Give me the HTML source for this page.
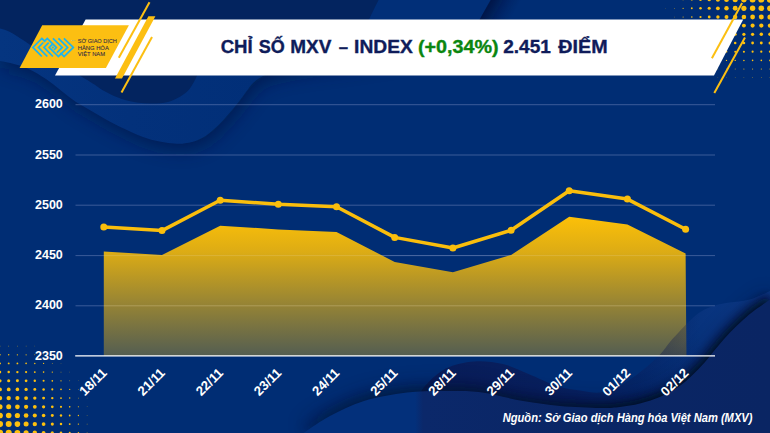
<!DOCTYPE html>
<html lang="vi"><head><meta charset="utf-8"><title>Chỉ số MXV – Index</title>
<style>html,body{margin:0;padding:0;background:#002d74;}body{width:770px;height:433px;overflow:hidden;}svg{display:block;}text{font-family:"Liberation Sans",sans-serif;}</style>
</head><body>
<svg width="770" height="433" viewBox="0 0 770 433">
<defs>
<linearGradient id="ar" x1="0" y1="217" x2="0" y2="356" gradientUnits="userSpaceOnUse"><stop offset="0" stop-color="#fcc008" stop-opacity="1"/><stop offset="0.25" stop-color="#f5ba0a" stop-opacity="0.9"/><stop offset="1" stop-color="#e8b414" stop-opacity="0.36"/></linearGradient>
<filter id="sh" x="-20%" y="-20%" width="140%" height="140%"><feGaussianBlur stdDeviation="9"/></filter>
<filter id="sh3" x="-20%" y="-40%" width="140%" height="180%"><feGaussianBlur stdDeviation="4.5"/></filter>
<filter id="sh2" x="-20%" y="-20%" width="140%" height="140%"><feGaussianBlur stdDeviation="4"/></filter>
<linearGradient id="mg" x1="0" y1="0" x2="260" y2="0" gradientUnits="userSpaceOnUse"><stop offset="0" stop-color="#053580"/><stop offset="0.5" stop-color="#03317b"/><stop offset="1" stop-color="#012f78"/></linearGradient>
<linearGradient id="n1dark" x1="418" y1="0" x2="700" y2="0" gradientUnits="userSpaceOnUse"><stop offset="0" stop-color="#0c1750" stop-opacity="0.72"/><stop offset="0.5" stop-color="#0c1750" stop-opacity="0.62"/><stop offset="0.72" stop-color="#0c1750" stop-opacity="0.45"/><stop offset="0.86" stop-color="#0c1750" stop-opacity="0.22"/><stop offset="1" stop-color="#0c1750" stop-opacity="0"/></linearGradient>
<linearGradient id="n1light" x1="600" y1="0" x2="770" y2="0" gradientUnits="userSpaceOnUse"><stop offset="0" stop-color="#163c8a" stop-opacity="0"/><stop offset="0.2" stop-color="#163c8a" stop-opacity="0"/><stop offset="0.5" stop-color="#163c8a" stop-opacity="0.32"/><stop offset="1" stop-color="#1c4aa0" stop-opacity="0.45"/></linearGradient>
<linearGradient id="n1g" x1="420" y1="0" x2="770" y2="0" gradientUnits="userSpaceOnUse"><stop offset="0" stop-color="#0a2768"/><stop offset="0.3" stop-color="#072a6e"/><stop offset="0.6" stop-color="#042f79"/><stop offset="1" stop-color="#0a3686"/></linearGradient>
<linearGradient id="n2g" x1="300" y1="0" x2="770" y2="0" gradientUnits="userSpaceOnUse"><stop offset="0" stop-color="#03307b"/><stop offset="0.245" stop-color="#03307b"/><stop offset="0.262" stop-color="#0b286a"/><stop offset="0.6" stop-color="#0a2665"/><stop offset="1" stop-color="#0a2563"/></linearGradient>
<linearGradient id="shg" x1="300" y1="0" x2="700" y2="0" gradientUnits="userSpaceOnUse"><stop offset="0" stop-color="#fff" stop-opacity="0.25"/><stop offset="0.5" stop-color="#fff" stop-opacity="0.5"/><stop offset="0.85" stop-color="#fff" stop-opacity="1"/></linearGradient>
<mask id="shmask" maskUnits="userSpaceOnUse" x="0" y="0" width="770" height="433"><rect width="770" height="433" fill="url(#shg)"/></mask>
<linearGradient id="esh" x1="0" y1="0" x2="1" y2="0"><stop offset="0" stop-color="#000c38" stop-opacity="0.55"/><stop offset="0.35" stop-color="#000c38" stop-opacity="0.28"/><stop offset="1" stop-color="#000c38" stop-opacity="0"/></linearGradient>
</defs>
<rect width="770" height="433" fill="#002d74"/>
<g id="bg">
<path d="M0,-30 H507.8 L491,0 C487,7 483,13 480,19.6 C440,62 300,60 263,76 C255,80 250,86 248.6,88.6 C240,100 236,106 228.6,114 C222,122 214,130 206,135.7 C196,142 186,144 177,143.7 C165,143 154,141 143,137 C128,131 112,123 100,116 C92,111 84,107 76,102 C66,95 56,86 46,79 C34,71 24,66 14,64 C9,62.5 4,61.5 0,61 Z" fill="#00123f" opacity="0.6" filter="url(#sh)" transform="translate(3,6)"/>
<path d="M0,-30 H507.8 L491,0 C487,7 483,13 480,19.6 C440,62 300,60 263,76 C255,80 250,86 248.6,88.6 C240,100 236,106 228.6,114 C222,122 214,130 206,135.7 C196,142 186,144 177,143.7 C165,143 154,141 143,137 C128,131 112,123 100,116 C92,111 84,107 76,102 C66,95 56,86 46,79 C34,71 24,66 14,64 C9,62.5 4,61.5 0,61 Z" fill="url(#mg)"/>
<rect x="0" y="-2" width="30" height="22" fill="url(#esh)" transform="translate(490.5,0) skewX(-29.3)"/>
<path d="M-1.0,28.2 C0.8,28.8 6.0,30.0 10.0,32.0 C14.0,34.0 18.8,37.3 23.0,40.0 C27.2,42.7 28.8,44.0 35.0,48.0 C41.2,52.0 50.8,58.4 60.0,64.0 C69.2,69.6 82.4,77.1 90.0,81.7 C97.6,86.3 100.4,89.0 105.6,91.8 C110.8,94.6 116.0,97.0 121.2,98.8 C126.4,100.6 131.6,101.6 136.8,102.4 C142.0,103.2 147.1,103.6 152.3,103.5 C157.5,103.4 163.2,103.2 167.9,102.0 C172.6,100.8 176.8,98.7 180.4,96.5 C184.0,94.3 187.1,91.8 189.7,88.7 C192.3,85.6 194.3,81.2 196.0,77.8 C197.7,74.3 199.3,69.6 200.0,68.0 L369,19.6 C372,13 375,7 378.6,0 V-1 H-1 Z" fill="#03245f"/>
</g>
<g id="dotsTR" fill="#fcc00e"><circle cx="770.0" cy="-0.4" r="3.13"/><circle cx="770.0" cy="8.3" r="2.89"/><circle cx="770.0" cy="17.0" r="2.58"/><circle cx="770.0" cy="25.6" r="2.20"/><circle cx="770.0" cy="34.3" r="1.79"/><circle cx="770.0" cy="43.0" r="1.51"/><circle cx="770.0" cy="51.7" r="1.16"/><circle cx="770.0" cy="60.4" r="0.86"/><circle cx="770.0" cy="69.0" r="0.58"/><circle cx="770.0" cy="77.7" r="0.36"/><circle cx="761.3" cy="-0.4" r="3.02"/><circle cx="761.3" cy="8.3" r="2.79"/><circle cx="761.3" cy="17.0" r="2.49"/><circle cx="761.3" cy="25.6" r="2.12"/><circle cx="761.3" cy="34.3" r="1.73"/><circle cx="761.3" cy="43.0" r="1.46"/><circle cx="761.3" cy="51.7" r="1.12"/><circle cx="761.3" cy="60.4" r="0.83"/><circle cx="761.3" cy="69.0" r="0.56"/><circle cx="761.3" cy="77.7" r="0.34"/><circle cx="752.6" cy="-0.4" r="2.92"/><circle cx="752.6" cy="8.3" r="2.69"/><circle cx="752.6" cy="17.0" r="2.40"/><circle cx="752.6" cy="25.6" r="2.05"/><circle cx="752.6" cy="34.3" r="1.66"/><circle cx="752.6" cy="43.0" r="1.40"/><circle cx="752.6" cy="51.7" r="1.08"/><circle cx="752.6" cy="60.4" r="0.80"/><circle cx="752.6" cy="69.0" r="0.54"/><circle cx="752.6" cy="77.7" r="0.33"/><circle cx="743.9" cy="-0.4" r="2.81"/><circle cx="743.9" cy="8.3" r="2.59"/><circle cx="743.9" cy="17.0" r="2.31"/><circle cx="743.9" cy="25.6" r="1.97"/><circle cx="743.9" cy="34.3" r="1.60"/><circle cx="743.9" cy="43.0" r="1.35"/><circle cx="743.9" cy="51.7" r="1.04"/><circle cx="743.9" cy="60.4" r="0.77"/><circle cx="743.9" cy="69.0" r="0.52"/><circle cx="743.9" cy="77.7" r="0.32"/><circle cx="735.2" cy="-0.4" r="2.64"/><circle cx="735.2" cy="8.3" r="2.43"/><circle cx="735.2" cy="17.0" r="2.17"/><circle cx="735.2" cy="25.6" r="1.85"/><circle cx="735.2" cy="34.3" r="1.50"/><circle cx="735.2" cy="43.0" r="1.27"/><circle cx="735.2" cy="51.7" r="0.97"/><circle cx="735.2" cy="60.4" r="0.72"/><circle cx="735.2" cy="69.0" r="0.49"/><circle cx="735.2" cy="77.7" r="0.30"/><circle cx="726.5" cy="-0.4" r="2.41"/><circle cx="726.5" cy="8.3" r="2.22"/><circle cx="726.5" cy="17.0" r="1.98"/><circle cx="726.5" cy="25.6" r="1.69"/><circle cx="726.5" cy="34.3" r="1.37"/><circle cx="726.5" cy="43.0" r="1.16"/><circle cx="726.5" cy="51.7" r="0.89"/><circle cx="726.5" cy="60.4" r="0.66"/><circle cx="726.5" cy="69.0" r="0.44"/><circle cx="726.5" cy="77.7" r="0.27"/><circle cx="717.9" cy="-0.4" r="2.07"/><circle cx="717.9" cy="8.3" r="1.91"/><circle cx="717.9" cy="17.0" r="1.70"/><circle cx="717.9" cy="25.6" r="1.45"/><circle cx="717.9" cy="34.3" r="1.18"/><circle cx="717.9" cy="43.0" r="1.00"/><circle cx="717.9" cy="51.7" r="0.76"/><circle cx="717.9" cy="60.4" r="0.57"/><circle cx="717.9" cy="69.0" r="0.38"/><circle cx="717.9" cy="77.7" r="0.23"/><circle cx="709.2" cy="-0.4" r="1.69"/><circle cx="709.2" cy="8.3" r="1.56"/><circle cx="709.2" cy="17.0" r="1.40"/><circle cx="709.2" cy="25.6" r="1.19"/><circle cx="709.2" cy="34.3" r="0.97"/><circle cx="709.2" cy="43.0" r="0.81"/><circle cx="709.2" cy="51.7" r="0.63"/><circle cx="709.2" cy="60.4" r="0.46"/><circle cx="709.2" cy="69.0" r="0.31"/><circle cx="700.5" cy="-0.4" r="1.35"/><circle cx="700.5" cy="8.3" r="1.25"/><circle cx="700.5" cy="17.0" r="1.12"/><circle cx="700.5" cy="25.6" r="0.95"/><circle cx="700.5" cy="34.3" r="0.77"/><circle cx="700.5" cy="43.0" r="0.65"/><circle cx="700.5" cy="51.7" r="0.50"/><circle cx="700.5" cy="60.4" r="0.37"/><circle cx="700.5" cy="69.0" r="0.25"/><circle cx="691.8" cy="-0.4" r="1.01"/><circle cx="691.8" cy="8.3" r="0.93"/><circle cx="691.8" cy="17.0" r="0.83"/><circle cx="691.8" cy="25.6" r="0.71"/><circle cx="691.8" cy="34.3" r="0.57"/><circle cx="691.8" cy="43.0" r="0.48"/><circle cx="691.8" cy="51.7" r="0.37"/><circle cx="691.8" cy="60.4" r="0.28"/><circle cx="683.1" cy="-0.4" r="0.67"/><circle cx="683.1" cy="8.3" r="0.62"/><circle cx="683.1" cy="17.0" r="0.56"/><circle cx="683.1" cy="25.6" r="0.47"/><circle cx="683.1" cy="34.3" r="0.38"/><circle cx="683.1" cy="43.0" r="0.32"/><circle cx="683.1" cy="51.7" r="0.25"/><circle cx="674.4" cy="-0.4" r="0.43"/><circle cx="674.4" cy="8.3" r="0.40"/><circle cx="674.4" cy="17.0" r="0.35"/><circle cx="674.4" cy="25.6" r="0.30"/><circle cx="674.4" cy="34.3" r="0.25"/><circle cx="674.4" cy="43.0" r="0.21"/><circle cx="665.7" cy="-0.4" r="0.23"/><circle cx="665.7" cy="8.3" r="0.21"/></g>
<g id="dotsBL" fill="#fcc00e"><circle cx="0.0" cy="432.8" r="3.10"/><circle cx="0.0" cy="424.1" r="3.05"/><circle cx="0.0" cy="415.5" r="2.86"/><circle cx="0.0" cy="406.8" r="2.55"/><circle cx="0.0" cy="398.1" r="2.22"/><circle cx="0.0" cy="389.4" r="1.90"/><circle cx="0.0" cy="380.8" r="1.59"/><circle cx="0.0" cy="372.1" r="1.28"/><circle cx="0.0" cy="363.4" r="0.97"/><circle cx="0.0" cy="354.8" r="0.72"/><circle cx="0.0" cy="346.1" r="0.42"/><circle cx="8.7" cy="432.8" r="3.05"/><circle cx="8.7" cy="424.1" r="3.00"/><circle cx="8.7" cy="415.5" r="2.80"/><circle cx="8.7" cy="406.8" r="2.50"/><circle cx="8.7" cy="398.1" r="2.18"/><circle cx="8.7" cy="389.4" r="1.87"/><circle cx="8.7" cy="380.8" r="1.56"/><circle cx="8.7" cy="372.1" r="1.25"/><circle cx="8.7" cy="363.4" r="0.95"/><circle cx="8.7" cy="354.8" r="0.71"/><circle cx="8.7" cy="346.1" r="0.41"/><circle cx="17.4" cy="432.8" r="2.86"/><circle cx="17.4" cy="424.1" r="2.80"/><circle cx="17.4" cy="415.5" r="2.60"/><circle cx="17.4" cy="406.8" r="2.35"/><circle cx="17.4" cy="398.1" r="2.07"/><circle cx="17.4" cy="389.4" r="1.78"/><circle cx="17.4" cy="380.8" r="1.49"/><circle cx="17.4" cy="372.1" r="1.19"/><circle cx="17.4" cy="363.4" r="0.91"/><circle cx="17.4" cy="354.8" r="0.66"/><circle cx="17.4" cy="346.1" r="0.38"/><circle cx="26.1" cy="432.8" r="2.55"/><circle cx="26.1" cy="424.1" r="2.50"/><circle cx="26.1" cy="415.5" r="2.35"/><circle cx="26.1" cy="406.8" r="2.14"/><circle cx="26.1" cy="398.1" r="1.90"/><circle cx="26.1" cy="389.4" r="1.64"/><circle cx="26.1" cy="380.8" r="1.37"/><circle cx="26.1" cy="372.1" r="1.09"/><circle cx="26.1" cy="363.4" r="0.83"/><circle cx="26.1" cy="354.8" r="0.58"/><circle cx="26.1" cy="346.1" r="0.32"/><circle cx="34.8" cy="432.8" r="2.22"/><circle cx="34.8" cy="424.1" r="2.18"/><circle cx="34.8" cy="415.5" r="2.07"/><circle cx="34.8" cy="406.8" r="1.90"/><circle cx="34.8" cy="398.1" r="1.69"/><circle cx="34.8" cy="389.4" r="1.46"/><circle cx="34.8" cy="380.8" r="1.21"/><circle cx="34.8" cy="372.1" r="0.95"/><circle cx="34.8" cy="363.4" r="0.73"/><circle cx="34.8" cy="354.8" r="0.47"/><circle cx="34.8" cy="346.1" r="0.24"/><circle cx="43.6" cy="432.8" r="1.90"/><circle cx="43.6" cy="424.1" r="1.87"/><circle cx="43.6" cy="415.5" r="1.78"/><circle cx="43.6" cy="406.8" r="1.64"/><circle cx="43.6" cy="398.1" r="1.46"/><circle cx="43.6" cy="389.4" r="1.25"/><circle cx="43.6" cy="380.8" r="1.03"/><circle cx="43.6" cy="372.1" r="0.82"/><circle cx="43.6" cy="363.4" r="0.59"/><circle cx="43.6" cy="354.8" r="0.35"/><circle cx="52.3" cy="432.8" r="1.59"/><circle cx="52.3" cy="424.1" r="1.56"/><circle cx="52.3" cy="415.5" r="1.48"/><circle cx="52.3" cy="406.8" r="1.36"/><circle cx="52.3" cy="398.1" r="1.21"/><circle cx="52.3" cy="389.4" r="1.03"/><circle cx="52.3" cy="380.8" r="0.84"/><circle cx="52.3" cy="372.1" r="0.66"/><circle cx="52.3" cy="363.4" r="0.42"/><circle cx="52.3" cy="354.8" r="0.23"/><circle cx="61.0" cy="432.8" r="1.27"/><circle cx="61.0" cy="424.1" r="1.25"/><circle cx="61.0" cy="415.5" r="1.19"/><circle cx="61.0" cy="406.8" r="1.08"/><circle cx="61.0" cy="398.1" r="0.95"/><circle cx="61.0" cy="389.4" r="0.82"/><circle cx="61.0" cy="380.8" r="0.66"/><circle cx="61.0" cy="372.1" r="0.45"/><circle cx="61.0" cy="363.4" r="0.27"/><circle cx="69.7" cy="432.8" r="0.97"/><circle cx="69.7" cy="424.1" r="0.95"/><circle cx="69.7" cy="415.5" r="0.90"/><circle cx="69.7" cy="406.8" r="0.83"/><circle cx="69.7" cy="398.1" r="0.73"/><circle cx="69.7" cy="389.4" r="0.59"/><circle cx="69.7" cy="380.8" r="0.42"/><circle cx="69.7" cy="372.1" r="0.27"/><circle cx="78.4" cy="432.8" r="0.72"/><circle cx="78.4" cy="424.1" r="0.70"/><circle cx="78.4" cy="415.5" r="0.65"/><circle cx="78.4" cy="406.8" r="0.57"/><circle cx="78.4" cy="398.1" r="0.46"/><circle cx="78.4" cy="389.4" r="0.35"/><circle cx="78.4" cy="380.8" r="0.23"/><circle cx="87.1" cy="432.8" r="0.42"/><circle cx="87.1" cy="424.1" r="0.41"/><circle cx="87.1" cy="415.5" r="0.37"/><circle cx="87.1" cy="406.8" r="0.31"/><circle cx="87.1" cy="398.1" r="0.24"/></g>
<g id="banner">
<polygon points="85.6,19.6 743.2,19.6 714,75.5 55,75.5" fill="#ffffff"/>
<polygon points="42.2,25.25 128.9,25.25 105.9,68 19.6,68" fill="#fcbf12"/>
<line x1="149.5" y1="2.3" x2="118.8" y2="57.8" stroke="#fcbf12" stroke-width="2"/>
<polygon points="148.4,16.3 155.4,16.3 122.0,78.6 115.0,78.6" fill="#fcbf12"/>
<line x1="152" y1="37" x2="121.5" y2="92.4" stroke="#fcbf12" stroke-width="2"/>
<line x1="742.1" y1="2.9" x2="711.9" y2="58.3" stroke="#fcbf12" stroke-width="2"/>
<line x1="745" y1="37.4" x2="714.3" y2="92.9" stroke="#fcbf12" stroke-width="2"/>
</g>
<g id="logo" fill="none" stroke="#1cb4f0" stroke-width="1.75" stroke-linejoin="miter" stroke-linecap="butt">
<polyline points="41.85,56.5 32.9,47.4 41.85,38.5 44.6,41.2 47.3,38.5 56.4,47.6 54.0,50.0"/>
<polyline points="47.3,56.5 38.4,47.4 43.3,42.5"/>
<polyline points="52.9,56.5 44.0,47.4 48.7,42.7"/>
<polyline points="58.4,38.4 67.65,47.4 58.4,56.5 49.2,47.4 52.3,44.3"/>
<polyline points="52.9,38.4 62.2,47.4 56.9,52.7"/>
<polyline points="63.9,38.4 73.3,47.4 64.1,56.5 60.4,52.8"/>
</g>
<circle cx="52.9" cy="47.4" r="1.0" fill="#1cb4f0"/>
<text x="71.6" y="40.6" font-size="2.4" fill="#5cc0d8">TM</text>
<g id="logotext" fill="#2a1f45" font-size="5.1" stroke="#2a1f45" stroke-width="0.06">
<text x="77.7" y="43.0" textLength="39.2" lengthAdjust="spacingAndGlyphs">SỞ GIAO DỊCH</text>
<text x="77.7" y="49.7" textLength="31.1" lengthAdjust="spacingAndGlyphs">HÀNG HÓA</text>
<text x="77.7" y="56.2" textLength="27.4" lengthAdjust="spacingAndGlyphs">VIỆT NAM</text>
</g>
<g id="title" font-size="18.2" font-weight="700" fill="#0f1c5a" stroke="#0f1c5a" stroke-width="0.35">
<text x="220.7" y="53.3" textLength="32.0" lengthAdjust="spacingAndGlyphs">CHỈ</text>
<text x="258.8" y="53.3" textLength="26.0" lengthAdjust="spacingAndGlyphs">SỐ</text>
<text x="290.2" y="53.3" textLength="41.1" lengthAdjust="spacingAndGlyphs">MXV</text>
<text x="338.8" y="53.3" textLength="9.3" lengthAdjust="spacingAndGlyphs">–</text>
<text x="354.1" y="53.3" textLength="58.7" lengthAdjust="spacingAndGlyphs">INDEX</text>
<text x="418.0" y="53.3" textLength="80.6" lengthAdjust="spacingAndGlyphs" fill="#0a860f" stroke="#0a860f">(+0,34%)</text>
<text x="503.2" y="53.3" textLength="47.7" lengthAdjust="spacingAndGlyphs">2.451</text>
<text x="558.3" y="53.3" textLength="49.3" lengthAdjust="spacingAndGlyphs">ĐIỂM</text>
</g>
<g id="grid" stroke="#8fa2cf" stroke-opacity="0.45" stroke-width="0.9">
<line x1="75.5" y1="104.7" x2="715" y2="104.7"/>
<line x1="75.5" y1="155.0" x2="715" y2="155.0"/>
<line x1="75.5" y1="205.2" x2="715" y2="205.2"/>
<line x1="75.5" y1="255.6" x2="715" y2="255.6"/>
<line x1="75.5" y1="305.8" x2="715" y2="305.8"/>
</g>
<path d="M424.0,434.0 C423.1,431.7 419.7,424.7 418.5,420.0 C417.3,415.3 416.2,411.2 417.0,406.0 C417.8,400.8 418.2,394.8 423.0,388.6 C427.8,382.4 437.2,373.1 445.7,368.6 C454.2,364.1 464.4,362.2 474.0,361.4 C483.6,360.6 493.9,361.9 503.0,364.0 C512.1,366.1 519.6,370.3 528.6,374.0 C537.6,377.7 548.4,383.2 557.0,386.0 C565.6,388.8 572.8,389.4 580.0,390.5 C587.2,391.6 593.9,393.1 600.0,392.5 C606.1,391.9 611.3,389.6 616.9,387.0 C622.5,384.4 628.1,380.8 633.7,376.9 C639.3,373.0 646.1,367.3 650.6,363.4 C655.1,359.5 657.8,357.1 661.0,353.5 C664.2,349.9 666.6,346.0 670.0,342.0 C673.4,338.0 677.7,333.4 681.5,329.3 C685.3,325.2 689.1,321.0 693.0,317.7 C696.9,314.4 700.7,311.7 704.6,309.6 C708.5,307.5 712.4,306.1 716.2,305.0 C720.1,303.9 723.9,303.3 727.7,302.7 C731.6,302.1 735.4,302.1 739.3,301.5 C743.1,300.9 746.9,300.3 750.8,299.2 C754.6,298.1 759.0,296.1 762.4,294.6 C765.8,293.2 769.6,291.2 771.0,290.5 V434 Z" fill="url(#n1light)"/>
<clipPath id="areaclip"><polygon points="103.8,251.4 162.0,255.0 220.2,225.7 278.3,229.4 336.5,232.0 394.7,262.0 452.9,272.2 511.1,254.9 569.2,216.8 627.4,224.5 685.6,253.6 686.4,356 103.8,356"/></clipPath>
<polygon id="area" points="103.8,251.4 162.0,255.0 220.2,225.7 278.3,229.4 336.5,232.0 394.7,262.0 452.9,272.2 511.1,254.9 569.2,216.8 627.4,224.5 685.6,253.6 686.4,356 103.8,356" fill="url(#ar)"/>
<g id="grid2" stroke="#c8cfe0" stroke-opacity="0.16" stroke-width="0.9">
<line x1="104" y1="255.6" x2="686" y2="255.6"/>
<line x1="104" y1="305.8" x2="686" y2="305.8"/>
</g>
<g id="waves">
<path d="M424.0,434.0 C423.1,431.7 419.7,424.7 418.5,420.0 C417.3,415.3 416.2,411.2 417.0,406.0 C417.8,400.8 418.2,394.8 423.0,388.6 C427.8,382.4 437.2,373.1 445.7,368.6 C454.2,364.1 464.4,362.2 474.0,361.4 C483.6,360.6 493.9,361.9 503.0,364.0 C512.1,366.1 519.6,370.3 528.6,374.0 C537.6,377.7 548.4,383.2 557.0,386.0 C565.6,388.8 572.8,389.4 580.0,390.5 C587.2,391.6 593.9,393.1 600.0,392.5 C606.1,391.9 611.3,389.6 616.9,387.0 C622.5,384.4 628.1,380.8 633.7,376.9 C639.3,373.0 646.1,367.3 650.6,363.4 C655.1,359.5 657.8,357.1 661.0,353.5 C664.2,349.9 666.6,346.0 670.0,342.0 C673.4,338.0 677.7,333.4 681.5,329.3 C685.3,325.2 689.1,321.0 693.0,317.7 C696.9,314.4 700.7,311.7 704.6,309.6 C708.5,307.5 712.4,306.1 716.2,305.0 C720.1,303.9 723.9,303.3 727.7,302.7 C731.6,302.1 735.4,302.1 739.3,301.5 C743.1,300.9 746.9,300.3 750.8,299.2 C754.6,298.1 759.0,296.1 762.4,294.6 C765.8,293.2 769.6,291.2 771.0,290.5 V434 Z" fill="#001040" opacity="0.2" clip-path="url(#areaclip)"/>
<path d="M424.0,434.0 C423.1,431.7 419.7,424.7 418.5,420.0 C417.3,415.3 416.2,411.2 417.0,406.0 C417.8,400.8 418.2,394.8 423.0,388.6 C427.8,382.4 437.2,373.1 445.7,368.6 C454.2,364.1 464.4,362.2 474.0,361.4 C483.6,360.6 493.9,361.9 503.0,364.0 C512.1,366.1 519.6,370.3 528.6,374.0 C537.6,377.7 548.4,383.2 557.0,386.0 C565.6,388.8 572.8,389.4 580.0,390.5 C587.2,391.6 593.9,393.1 600.0,392.5 C606.1,391.9 611.3,389.6 616.9,387.0 C622.5,384.4 628.1,380.8 633.7,376.9 C639.3,373.0 646.1,367.3 650.6,363.4 C655.1,359.5 657.8,357.1 661.0,353.5 C664.2,349.9 666.6,346.0 670.0,342.0 C673.4,338.0 677.7,333.4 681.5,329.3 C685.3,325.2 689.1,321.0 693.0,317.7 C696.9,314.4 700.7,311.7 704.6,309.6 C708.5,307.5 712.4,306.1 716.2,305.0 C720.1,303.9 723.9,303.3 727.7,302.7 C731.6,302.1 735.4,302.1 739.3,301.5 C743.1,300.9 746.9,300.3 750.8,299.2 C754.6,298.1 759.0,296.1 762.4,294.6 C765.8,293.2 769.6,291.2 771.0,290.5 V434 Z" fill="url(#n1dark)"/>
<g mask="url(#shmask)"><path d="M302.0,434.0 C306.7,431.0 319.7,421.5 330.0,416.0 C340.3,410.5 351.2,404.9 364.0,401.0 C376.8,397.1 392.7,394.2 407.0,392.5 C421.3,390.8 437.5,391.0 450.0,391.0 C462.5,391.0 469.8,390.8 482.0,392.5 C494.2,394.2 510.0,398.8 523.0,401.0 C536.0,403.2 547.2,404.8 560.0,406.0 C572.8,407.2 590.0,407.8 600.0,408.0 C610.0,408.2 613.3,407.8 620.0,407.0 C626.7,406.2 633.2,405.2 640.0,403.5 C646.8,401.8 654.5,399.3 661.0,396.5 C667.5,393.7 673.8,390.0 679.0,386.5 C684.2,383.0 687.7,379.5 692.0,375.5 C696.3,371.5 700.4,367.2 704.6,362.5 C708.8,357.8 713.1,352.0 717.3,347.0 C721.5,342.0 725.7,337.0 730.0,332.5 C734.3,328.0 738.8,323.8 743.0,320.0 C747.2,316.2 751.3,312.8 755.0,310.0 C758.7,307.2 762.2,304.9 765.0,303.0 C767.8,301.1 770.8,299.2 772.0,298.5 V434 Z" fill="#000828" opacity="0.95" filter="url(#sh3)" transform="translate(-2.5,-4)"/></g>
<path d="M302.0,434.0 C306.7,431.0 319.7,421.5 330.0,416.0 C340.3,410.5 351.2,404.9 364.0,401.0 C376.8,397.1 392.7,394.2 407.0,392.5 C421.3,390.8 437.5,391.0 450.0,391.0 C462.5,391.0 469.8,390.8 482.0,392.5 C494.2,394.2 510.0,398.8 523.0,401.0 C536.0,403.2 547.2,404.8 560.0,406.0 C572.8,407.2 590.0,407.8 600.0,408.0 C610.0,408.2 613.3,407.8 620.0,407.0 C626.7,406.2 633.2,405.2 640.0,403.5 C646.8,401.8 654.5,399.3 661.0,396.5 C667.5,393.7 673.8,390.0 679.0,386.5 C684.2,383.0 687.7,379.5 692.0,375.5 C696.3,371.5 700.4,367.2 704.6,362.5 C708.8,357.8 713.1,352.0 717.3,347.0 C721.5,342.0 725.7,337.0 730.0,332.5 C734.3,328.0 738.8,323.8 743.0,320.0 C747.2,316.2 751.3,312.8 755.0,310.0 C758.7,307.2 762.2,304.9 765.0,303.0 C767.8,301.1 770.8,299.2 772.0,298.5 V434 Z" fill="#000828" opacity="0.35" filter="url(#sh)" transform="translate(-3,-8)"/>
<path d="M302.0,434.0 C306.7,431.0 319.7,421.5 330.0,416.0 C340.3,410.5 351.2,404.9 364.0,401.0 C376.8,397.1 392.7,394.2 407.0,392.5 C421.3,390.8 437.5,391.0 450.0,391.0 C462.5,391.0 469.8,390.8 482.0,392.5 C494.2,394.2 510.0,398.8 523.0,401.0 C536.0,403.2 547.2,404.8 560.0,406.0 C572.8,407.2 590.0,407.8 600.0,408.0 C610.0,408.2 613.3,407.8 620.0,407.0 C626.7,406.2 633.2,405.2 640.0,403.5 C646.8,401.8 654.5,399.3 661.0,396.5 C667.5,393.7 673.8,390.0 679.0,386.5 C684.2,383.0 687.7,379.5 692.0,375.5 C696.3,371.5 700.4,367.2 704.6,362.5 C708.8,357.8 713.1,352.0 717.3,347.0 C721.5,342.0 725.7,337.0 730.0,332.5 C734.3,328.0 738.8,323.8 743.0,320.0 C747.2,316.2 751.3,312.8 755.0,310.0 C758.7,307.2 762.2,304.9 765.0,303.0 C767.8,301.1 770.8,299.2 772.0,298.5 V434 Z" fill="url(#n2g)"/>
</g>
<line x1="75.2" y1="355.9" x2="715" y2="355.9" stroke="#ffffff" stroke-width="1.3"/>
<polyline id="line" points="103.8,227.0 162.0,230.6 220.2,200.3 278.3,204.2 336.5,206.8 394.7,237.4 452.9,248.0 511.1,230.3 569.2,190.8 627.4,199.1 685.6,229.2" fill="none" stroke="#fabe0c" stroke-width="3.5" stroke-linejoin="round" stroke-linecap="round"/>
<g fill="#fabe0c"><circle cx="103.8" cy="227.0" r="3.5"/><circle cx="162.0" cy="230.6" r="3.5"/><circle cx="220.2" cy="200.3" r="3.5"/><circle cx="278.3" cy="204.2" r="3.5"/><circle cx="336.5" cy="206.8" r="3.5"/><circle cx="394.7" cy="237.4" r="3.5"/><circle cx="452.9" cy="248.0" r="3.5"/><circle cx="511.1" cy="230.3" r="3.5"/><circle cx="569.2" cy="190.8" r="3.5"/><circle cx="627.4" cy="199.1" r="3.5"/><circle cx="685.6" cy="229.2" r="3.5"/></g>
<g id="ylab" fill="#ffffff" font-size="12.5" font-weight="700" text-anchor="end">
<text x="62.8" y="108.2">2600</text>
<text x="62.8" y="158.5">2550</text>
<text x="62.8" y="208.7">2500</text>
<text x="62.8" y="259.1">2450</text>
<text x="62.8" y="309.3">2400</text>
<text x="62.8" y="359.5">2350</text>
</g>
<g id="xlab" fill="#ffffff" font-size="13.2" font-weight="700" text-anchor="end">
<text transform="translate(107.6,373.7) rotate(-45)">18/11</text>
<text transform="translate(165.8,373.7) rotate(-45)">21/11</text>
<text transform="translate(224.0,373.7) rotate(-45)">22/11</text>
<text transform="translate(282.1,373.7) rotate(-45)">23/11</text>
<text transform="translate(340.3,373.7) rotate(-45)">24/11</text>
<text transform="translate(398.5,373.7) rotate(-45)">25/11</text>
<text transform="translate(456.7,373.7) rotate(-45)">28/11</text>
<text transform="translate(514.9,373.7) rotate(-45)">29/11</text>
<text transform="translate(573.0,373.7) rotate(-45)">30/11</text>
<text transform="translate(631.2,373.7) rotate(-45)">01/12</text>
<text transform="translate(689.4,373.7) rotate(-45)">02/12</text>
</g>
<text id="src" x="502.7" y="421.8" font-size="12" font-weight="700" font-style="italic" fill="#ffffff" textLength="249.8" lengthAdjust="spacingAndGlyphs">Nguồn: Sở Giao dịch Hàng hóa Việt Nam (MXV)</text>
</svg></body></html>
